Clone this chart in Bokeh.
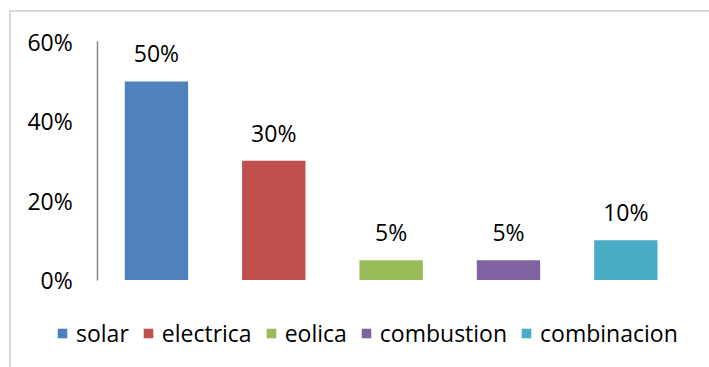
from bokeh.plotting import figure
from bokeh.models import ColumnDataSource, Range1d, LabelSet, Legend, LegendItem, NumeralTickFormatter
from bokeh.core.properties import value
from bokeh.transform import factor_cmap
from bokeh.embed import file_html
from bokeh.resources import INLINE

categories = ["solar", "electrica", "eolica", "combustion", "combinacion"]
values = [0.50, 0.30, 0.05, 0.05, 0.10]
labels = ["50%", "30%", "5%", "5%", "10%"]
colors = ["#4F81BD", "#C0504D", "#9BBB59", "#8064A2", "#4BACC6"]
y_ticks = [0, 0.2, 0.4, 0.6]

FONT = "Open Sans"

src = ColumnDataSource(dict(pos=list(range(len(categories))), cat=categories, val=values, lab=labels))

p = figure(width=700, height=357, x_range=Range1d(-1.235, 4.730), y_range=Range1d(-0.2253, 0.6734),
           output_backend="svg", toolbar_location=None,
           min_border_left=0, min_border_top=0, min_border_right=0, min_border_bottom=0)
p.styles = {"border-top": "2px solid #d9d9d9", "border-left": "2px solid #d9d9d9",
            "margin-left": "9px", "margin-top": "10px"}
p.outline_line_color = None
p.background_fill_color = "white"
p.border_fill_color = "white"
p.xgrid.visible = False
p.ygrid.visible = False

r = p.vbar(x="pos", top="val", width=0.54, source=src,
           fill_color=factor_cmap("cat", colors, categories), line_color=None)

p.xaxis.visible = False
p.yaxis.fixed_location = -0.5
p.yaxis.bounds = (0, 0.6)
p.yaxis.ticker = y_ticks
p.yaxis.formatter = NumeralTickFormatter(format="0%")
p.yaxis.axis_line_color = "#868686"
p.yaxis.axis_line_width = 1.5
p.yaxis.major_tick_line_color = None
p.yaxis.minor_tick_line_color = None
p.yaxis.major_tick_out = 0
p.yaxis.major_label_standoff = 25
p.yaxis.major_label_text_font = FONT
p.yaxis.major_label_text_font_size = "23px"
p.yaxis.major_label_text_color = "black"

lbl = LabelSet(x="pos", y="val", text="lab", source=src, text_align="center",
               text_baseline="bottom", y_offset=12, text_font=value(FONT),
               text_font_size=value("23px"), text_color=value("black"))
p.add_layout(lbl)

legend = Legend(items=[LegendItem(label=c, renderers=[r], index=i) for i, c in enumerate(categories)],
                orientation="horizontal")
legend.glyph_width = 12
legend.glyph_height = 12
legend.label_standoff = 8
legend.spacing = 13
legend.padding = 0
legend.margin = 0
legend.border_line_color = None
legend.background_fill_alpha = 0
legend.label_text_font = FONT
legend.label_text_font_size = "23px"
legend.label_text_color = "black"
legend.label_height = 30
legend.location = (45, 20)
p.add_layout(legend, "center")

open("out.html", "w").write(file_html(p, INLINE))
